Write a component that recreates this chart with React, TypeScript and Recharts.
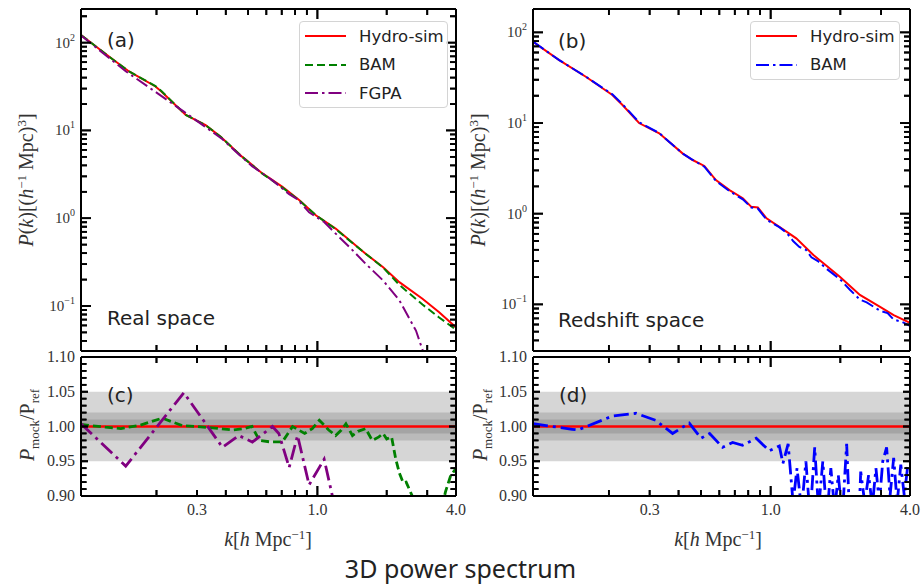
import React from 'react';
import { LineChart, Line, XAxis, YAxis, ReferenceArea, Legend } from 'recharts';

// ---- data (k in h/Mpc) ----
// (a) real space P(k)
const kRealHydro = [0.094, 0.124, 0.152, 0.198, 0.21, 0.268, 0.327, 0.38, 0.472, 0.577, 0.705, 0.833, 0.984, 1.2, 1.62, 1.93, 2.27, 2.86, 3.38, 4.0];
const pRealHydro = [122, 70, 47, 31.7, 27.8, 15.0, 11.5, 8.5, 5.0, 3.24, 2.28, 1.61, 1.08, 0.762, 0.394, 0.277, 0.187, 0.121, 0.085, 0.057];
const pRealBam = [122.5, 69.9, 47, 32.0, 28.1, 15.0, 11.48, 8.47, 4.99, 3.21, 2.23, 1.6, 1.085, 0.752, 0.393, 0.274, 0.174, 0.104, 0.074, 0.0536];
const kRealFgpa = [0.094, 0.147, 0.263, 0.387, 0.456, 0.522, 0.638, 0.754, 0.82, 0.92, 1.07, 1.16, 1.4, 1.62, 1.93, 2.27, 2.68, 2.95];
const pRealFgpa = [121, 47.3, 16.4, 7.95, 5.33, 3.9, 2.7, 1.88, 1.64, 1.17, 0.905, 0.73, 0.45, 0.303, 0.195, 0.116, 0.0525, 0.025];

// (b) redshift space P(k)
const kRedHydro = [0.094, 0.122, 0.159, 0.207, 0.229, 0.27, 0.33, 0.416, 0.46, 0.517, 0.58, 0.664, 0.758, 0.825, 0.88, 0.96, 1.17, 1.29, 1.53, 1.99, 2.43, 2.97, 3.4, 4.0];
const pRedHydro = [78.8, 49.5, 32.4, 20.4, 15.8, 10.0, 7.7, 4.63, 3.91, 3.36, 2.35, 1.82, 1.48, 1.19, 1.17, 0.89, 0.634, 0.535, 0.35, 0.202, 0.127, 0.094, 0.076, 0.0625];
const kRedBam = [0.094, 0.122, 0.159, 0.207, 0.229, 0.27, 0.33, 0.416, 0.46, 0.517, 0.58, 0.664, 0.758, 0.825, 0.88, 0.96, 1.09, 1.17, 1.25, 1.33, 1.42, 1.5, 1.6, 1.75, 1.99, 2.2, 2.43, 2.6, 2.97, 3.2, 3.4, 3.7, 4.0];
const pRedBam = [79, 49.4, 32.5, 20.7, 16.1, 10.2, 7.75, 4.62, 3.93, 3.3, 2.3, 1.77, 1.44, 1.17, 1.14, 0.86, 0.71, 0.62, 0.5, 0.43, 0.4, 0.33, 0.3, 0.245, 0.19, 0.145, 0.113, 0.105, 0.085, 0.08, 0.068, 0.064, 0.058];

// (c) real space ratio P_mock / P_ref
const kRatioHydro = [0.094, 4.0];
const rHydro = [1.0, 1.0];
const kRealBamRatio = [0.094, 0.12, 0.14, 0.17, 0.212, 0.26, 0.3, 0.35, 0.427, 0.48, 0.52, 0.56, 0.618, 0.705, 0.78, 0.88, 0.95, 1.02, 1.12, 1.2, 1.27, 1.33, 1.42, 1.5, 1.62, 1.73, 1.85, 1.93, 2.0, 2.1, 2.19, 2.27, 2.36, 2.43, 2.59, 2.8, 3.1, 3.4, 3.6, 3.78, 4.0];
const rRealBam = [1.003, 0.999, 0.997, 1.002, 1.012, 1.001, 1.0, 0.998, 0.995, 0.997, 1.0, 0.98, 0.978, 0.978, 1.0, 0.99, 0.997, 1.009, 0.995, 0.987, 0.995, 1.004, 0.987, 0.993, 0.997, 0.98, 0.985, 0.99, 0.982, 0.985, 0.953, 0.933, 0.919, 0.92, 0.899, 0.86, 0.84, 0.87, 0.906, 0.928, 0.94];
const kRealFgpaRatio = [0.094, 0.147, 0.263, 0.387, 0.456, 0.522, 0.638, 0.68, 0.754, 0.82, 0.92, 1.07, 1.16, 1.25];
const rRealFgpa = [1.004, 0.943, 1.0485, 0.97, 0.987, 0.9775, 1.0, 0.99, 0.941, 0.987, 0.916, 0.953, 0.901, 0.86];

// (d) redshift space ratio
const kRedBamRatio = [0.094, 0.139, 0.147, 0.207, 0.262, 0.318, 0.377, 0.445, 0.5, 0.545, 0.62, 0.685, 0.756, 0.866, 0.987, 1.09, 1.13, 1.19, 1.25, 1.3, 1.36, 1.42, 1.48, 1.55, 1.61, 1.68, 1.75, 1.82, 1.89, 1.96, 2.04, 2.13, 2.2, 2.3, 2.4, 2.45, 2.55, 2.65, 2.75, 2.85, 2.95, 3.05, 3.17, 3.28, 3.4, 3.52, 3.65, 3.78, 3.9, 4.0];
const rRedBam = [1.004, 0.996, 0.995, 1.015, 1.019, 1.009, 0.99, 1.005, 0.983, 0.99, 0.97, 0.977, 0.973, 0.983, 0.965, 0.972, 0.947, 0.975, 0.89, 0.94, 0.88, 0.95, 0.87, 0.97, 0.88, 0.95, 0.87, 0.94, 0.88, 0.93, 0.87, 0.975, 0.86, 0.85, 0.86, 0.935, 0.89, 0.93, 0.885, 0.94, 0.89, 0.95, 0.97, 0.9, 0.955, 0.89, 0.945, 0.9, 0.94, 0.945];

// ---- ticks ----
const kTicks = [0.2, 0.3, 0.4, 0.5, 0.6, 0.7, 0.8, 0.9, 1, 2, 3, 4];
const kTickLabels: Record<number, string> = { 0.3: '0.3', 1: '1.0', 4: '4.0' };
const pTicks = [0.04, 0.05, 0.06, 0.07, 0.08, 0.09, 0.1, 0.2, 0.3, 0.4, 0.5, 0.6, 0.7, 0.8, 0.9, 1, 2, 3, 4, 5, 6, 7, 8, 9, 10, 20, 30, 40, 50, 60, 70, 80, 90, 100, 200];
const pDecades = [0.1, 1, 10, 100];
const rTicks = [0.9, 0.91, 0.92, 0.93, 0.94, 0.95, 0.96, 0.97, 0.98, 0.99, 1.0, 1.01, 1.02, 1.03, 1.04, 1.05, 1.06, 1.07, 1.08, 1.09, 1.1];
const rMajor = [0.9, 0.95, 1.0, 1.05, 1.1];

const K_DOMAIN: [number, number] = [0.094, 4];
const P_DOMAIN_REAL: [number, number] = [0.0307, 242];
const P_DOMAIN_RED: [number, number] = [0.0306, 181];
const R_DOMAIN: [number, number] = [0.9, 1.1];

const TOP_H = 342; // plot heights in px
const RATIO_H = 139;

const SERIF = '"Liberation Serif", "DejaVu Serif", serif';
const SANS = '"DejaVu Sans", sans-serif';
const AXIS_LINE = { stroke: '#000', strokeWidth: 2 };

const outer = { tickLine: false, axisLine: AXIS_LINE, interval: 0 as const, tickSize: 0, tickMargin: 0 };

type Pt = { k: number; v: number };
const pts = (ks: number[], vs: number[]): Pt[] => ks.map((k, i) => ({ k, v: vs[i] }));

type Series = { name: string; data: Pt[]; color: string; dash?: string; width: number };

// moves a data value inward by a number of pixels along a log / linear axis
type Mover = (v: number, px: number) => number;
const logMover = (domain: [number, number], size: number): Mover => {
  const ppd = size / Math.log10(domain[1] / domain[0]);
  return (v, px) => v * Math.pow(10, px / ppd);
};
const linMover = (domain: [number, number], size: number): Mover => {
  const ppu = size / (domain[1] - domain[0]);
  return (v, px) => v + px / ppu;
};

// all inward tick marks of one panel as a single broken polyline
type TickPt = { k: number; v: number | null };
function frameTickData(
  xDom: [number, number],
  yDom: [number, number],
  yTicks: number[],
  isMajorY: (v: number) => boolean,
  majorY: number,
  minorY: number,
  mx: Mover,
  my: Mover,
): TickPt[] {
  const out: TickPt[] = [];
  const seg = (a: TickPt, b: TickPt) => {
    out.push(a, b, { k: a.k, v: null });
  };
  kTicks.forEach((k) => {
    if (k >= xDom[1]) return;
    const len = k === 1 ? 10 : 6;
    seg({ k, v: yDom[0] }, { k, v: my(yDom[0], len) });
    seg({ k, v: yDom[1] }, { k, v: my(yDom[1], -len) });
  });
  yTicks.forEach((v) => {
    const len = isMajorY(v) ? majorY : minorY;
    seg({ k: xDom[0], v }, { k: mx(xDom[0], len), v });
    seg({ k: xDom[1], v }, { k: mx(xDom[1], -len), v });
  });
  return out;
}

// ---- tick renderers: a filled bar for the mark plus the label ----
const hBar = (x: number, y: number, len: number) => (
  <rect x={len > 0 ? x : x + len} y={y - 0.9} width={Math.abs(len)} height={1.8} fill="#000" />
);
const vBar = (x: number, y: number, len: number) => (
  <rect x={x - 0.9} y={len > 0 ? y : y + len} width={1.8} height={Math.abs(len)} fill="#000" />
);

const kTick = (side: 'top' | 'bottom', labels: boolean) => (props: any) => {
  const { payload } = props;
  const x = Number(props.x);
  const y = Number(props.y);
  const v = payload.value;
  const label = labels ? kTickLabels[v] : undefined;
  const len = v === 1 ? 10 : 6;
  return (
    <g>
      {v !== 4 && vBar(x, y, side === 'bottom' ? -len : len)}
      {label && (
        <text x={x} y={y + 19} textAnchor="middle" fontFamily={SERIF} fontSize={16} fill="#333">
          {label}
        </text>
      )}
    </g>
  );
};

const logTick = (side: 'left' | 'right', labels: boolean) => (props: any) => {
  const { payload } = props;
  const x = Number(props.x);
  const y = Number(props.y);
  const v = payload.value;
  const major = pDecades.includes(v);
  const len = major ? 10 : 6;
  const exp = Math.round(Math.log10(v));
  return (
    <g>
      {hBar(x, y, side === 'left' ? len : -len)}
      {labels && major && (
        <text x={x - 6} y={y + 5} textAnchor="end" fontFamily={SERIF} fontSize={15} fill="#333">
          10
          <tspan dy={-7} fontSize={10}>
            {exp < 0 ? `\u2212${-exp}` : `${exp}`}
          </tspan>
        </text>
      )}
    </g>
  );
};

const ratioTick = (side: 'left' | 'right', labels: boolean) => (props: any) => {
  const { payload } = props;
  const x = Number(props.x);
  const y = Number(props.y);
  const v = payload.value;
  const major = rMajor.includes(v);
  const len = major ? 7 : 5.5;
  return (
    <g>
      {hBar(x, y, side === 'left' ? len : -len)}
      {labels && major && (
        <text x={x - 6} y={y + 5} textAnchor="end" fontFamily={SERIF} fontSize={16} fill="#333">
          {v.toFixed(2)}
        </text>
      )}
    </g>
  );
};

const LegendBox = ({ items, width, height }: { items: Series[]; width: number; height: number }) => (
  <div
    style={{
      width,
      height,
      boxSizing: 'border-box',
      border: '1px solid #d4d4d4',
      borderRadius: 4,
      background: 'rgba(255,255,255,0.85)',
    }}
  >
    {items.map((s) => (
      <div key={s.name} style={{ display: 'flex', alignItems: 'center', height: 28.5 }}>
        <svg width={46} height={10} style={{ marginLeft: 5 }}>
          <line x1={0} x2={41} y1={5} y2={5} stroke={s.color} strokeWidth={2} strokeDasharray={s.dash} />
        </svg>
        <span style={{ marginLeft: 8, fontFamily: SANS, fontSize: 16.5, color: '#222' }}>{s.name}</span>
      </div>
    ))}
  </div>
);

const renderLines = (series: Series[]) =>
  series.map((s) => (
    <Line
      key={s.name}
      xAxisId="b"
      yAxisId="l"
      data={s.data}
      dataKey="v"
      name={s.name}
      type="linear"
      stroke={s.color}
      strokeWidth={s.width}
      strokeDasharray={s.dash}
      dot={false}
      activeDot={false}
      isAnimationActive={false}
    />
  ));

const renderTicks = (data: TickPt[]) => (
  <Line
    xAxisId="b"
    yAxisId="l"
    data={data}
    dataKey="v"
    name="ticks"
    type="linear"
    stroke="#000"
    strokeWidth={1.8}
    connectNulls={false}
    dot={false}
    activeDot={false}
    legendType="none"
    isAnimationActive={false}
  />
);

function SpectrumPanel(props: {
  left: number;
  width: number;
  padRight: number;
  yAxisW: number;
  plotW: number;
  pDomain: [number, number];
  series: Series[];
  legend: { left: number; width: number; height: number };
}) {
  const { left, width, padRight, yAxisW, plotW, pDomain, series, legend } = props;
  const ticks = pTicks.filter((t) => t >= pDomain[0] && t <= pDomain[1]);
  const kx = { dataKey: 'k', type: 'number' as const, scale: 'log' as const, domain: K_DOMAIN, allowDataOverflow: true, ticks: kTicks };
  const py = { type: 'number' as const, scale: 'log' as const, domain: pDomain, allowDataOverflow: true, ticks };
  const tickData = frameTickData(K_DOMAIN, pDomain, ticks, (v) => pDecades.includes(v), 10, 6, logMover(K_DOMAIN, plotW), logMover(pDomain, TOP_H));
  return (
    <div style={{ position: 'absolute', left, top: 0 }}>
      <LineChart width={width} height={356} margin={{ top: 0, right: padRight, bottom: 0, left: 0 }}>
        <XAxis xAxisId="b" orientation="bottom" height={5} tick={kTick('bottom', false)} {...kx} {...outer} />
        <XAxis xAxisId="t" orientation="top" height={9} tick={kTick('top', false)} {...kx} {...outer} />
        <YAxis yAxisId="l" orientation="left" width={yAxisW} tick={logTick('left', true)} {...py} {...outer} />
        <YAxis yAxisId="r" orientation="right" width={4} tick={logTick('right', false)} {...py} {...outer} />
        <Legend
          layout="horizontal"
          verticalAlign="middle"
          align="center"
          wrapperStyle={{ left: legend.left, top: 21, width: legend.width, height: legend.height }}
          content={() => <LegendBox items={series} width={legend.width} height={legend.height} />}
        />
        {renderLines(series)}
        {renderTicks(tickData)}
      </LineChart>
    </div>
  );
}

function RatioPanel(props: { left: number; width: number; padRight: number; yAxisW: number; plotW: number; series: Series[] }) {
  const { left, width, padRight, yAxisW, plotW, series } = props;
  const kx = { dataKey: 'k', type: 'number' as const, scale: 'log' as const, domain: K_DOMAIN, allowDataOverflow: true, ticks: kTicks };
  const ry = { type: 'number' as const, domain: R_DOMAIN, allowDataOverflow: true, ticks: rTicks };
  const tickData = frameTickData(K_DOMAIN, R_DOMAIN, rTicks, (v) => rMajor.includes(v), 7, 5.5, logMover(K_DOMAIN, plotW), linMover(R_DOMAIN, RATIO_H));
  return (
    <div style={{ position: 'absolute', left, top: 349 }}>
      <LineChart width={width} height={177} margin={{ top: 0, right: padRight, bottom: 0, left: 0 }}>
        <ReferenceArea xAxisId="b" yAxisId="l" y1={0.95} y2={1.05} fill="#d6d6d6" fillOpacity={1} stroke="none" />
        <ReferenceArea xAxisId="b" yAxisId="l" y1={0.98} y2={1.02} fill="#bababa" fillOpacity={1} stroke="none" />
        <ReferenceArea xAxisId="b" yAxisId="l" y1={0.99} y2={1.01} fill="#a4a4a4" fillOpacity={1} stroke="none" />
        <XAxis xAxisId="b" orientation="bottom" height={30} tick={kTick('bottom', true)} {...kx} {...outer} />
        <XAxis xAxisId="t" orientation="top" height={8} tick={kTick('top', false)} {...kx} {...outer} />
        <YAxis yAxisId="l" orientation="left" width={yAxisW} tick={ratioTick('left', true)} {...ry} {...outer} />
        <YAxis yAxisId="r" orientation="right" width={4} tick={ratioTick('right', false)} {...ry} {...outer} />
        {renderLines(series)}
        {renderTicks(tickData)}
      </LineChart>
    </div>
  );
}

const RED = '#ff0000';
const GREEN = '#008000';
const PURPLE = '#800080';
const BLUE = '#0000ff';

const realSeries: Series[] = [
  { name: 'Hydro-sim', data: pts(kRealHydro, pRealHydro), color: RED, width: 2 },
  { name: 'BAM', data: pts(kRealHydro, pRealBam), color: GREEN, dash: '8 4', width: 2 },
  { name: 'FGPA', data: pts(kRealFgpa, pRealFgpa), color: PURPLE, dash: '13 4 2.5 4', width: 2 },
];
const redSeries: Series[] = [
  { name: 'Hydro-sim', data: pts(kRedHydro, pRedHydro), color: RED, width: 2 },
  { name: 'BAM', data: pts(kRedBam, pRedBam), color: BLUE, dash: '13 4 2.5 4', width: 2 },
];
const realRatio: Series[] = [
  { name: 'Hydro-sim', data: pts(kRatioHydro, rHydro), color: RED, width: 2.5 },
  { name: 'BAM', data: pts(kRealBamRatio, rRealBam), color: GREEN, dash: '8 4', width: 2.8 },
  { name: 'FGPA', data: pts(kRealFgpaRatio, rRealFgpa), color: PURPLE, dash: '15 5 3 5', width: 2.8 },
];
const redRatio: Series[] = [
  { name: 'Hydro-sim', data: pts(kRatioHydro, rHydro), color: RED, width: 2.5 },
  { name: 'BAM', data: pts(kRedBamRatio, rRedBam), color: BLUE, dash: '15 5 3 5', width: 2.8 },
];

const Txt = ({ left, cy, size, font, children }: { left: number; cy: number; size: number; font: string; children: React.ReactNode }) => (
  <div style={{ position: 'absolute', left, top: cy - size / 2, fontFamily: font, fontSize: size, lineHeight: `${size}px`, color: '#222', whiteSpace: 'nowrap' }}>
    {children}
  </div>
);

const Centered = ({ cx, cy, rotate, children, size }: { cx: number; cy: number; rotate?: boolean; size: number; children: React.ReactNode }) => (
  <div
    style={{
      position: 'absolute',
      left: cx,
      top: cy,
      transform: `translate(-50%, -50%)${rotate ? ' rotate(-90deg)' : ''}`,
      fontFamily: SERIF,
      fontSize: size,
      color: '#333',
      whiteSpace: 'nowrap',
      lineHeight: 1,
    }}
  >
    {children}
  </div>
);

const PowerTitle = () => (
  <span>
    <i>P</i>(<i>k</i>)[(<i>h</i>
    <sup style={{ fontSize: '0.65em' }}>{'\u22121'}</sup> Mpc)<sup style={{ fontSize: '0.65em' }}>3</sup>]
  </span>
);
const RatioTitle = () => (
  <span>
    <i>P</i>
    <sub style={{ fontSize: '0.65em' }}>mock</sub>/P<sub style={{ fontSize: '0.65em' }}>ref</sub>
  </span>
);
const KTitle = () => (
  <span>
    <i>k</i>[<i>h</i> Mpc<sup style={{ fontSize: '0.65em' }}>{'\u22121'}</sup>]
  </span>
);

export default function App() {
  return (
    <div style={{ position: 'absolute', left: 0, top: 0, width: 921, height: 586, background: '#fff', overflow: 'hidden' }}>
      <SpectrumPanel left={0} width={480} padRight={20} yAxisW={81} plotW={375} pDomain={P_DOMAIN_REAL} series={realSeries} legend={{ left: 299, width: 149, height: 87 }} />
      <SpectrumPanel left={460} width={461} padRight={7} yAxisW={73} plotW={377} pDomain={P_DOMAIN_RED} series={redSeries} legend={{ left: 290, width: 150, height: 59 }} />
      <RatioPanel left={0} width={480} padRight={20} yAxisW={81} plotW={375} series={realRatio} />
      <RatioPanel left={460} width={461} padRight={7} yAxisW={73} plotW={377} series={redRatio} />

      <Txt left={107} cy={40} size={20} font={SANS}>(a)</Txt>
      <Txt left={558} cy={41} size={20} font={SANS}>(b)</Txt>
      <Txt left={107} cy={395} size={20} font={SANS}>(c)</Txt>
      <Txt left={559} cy={395} size={20} font={SANS}>(d)</Txt>
      <Txt left={107} cy={318} size={20} font={SANS}>Real space</Txt>
      <Txt left={558} cy={320} size={20} font={SANS}>Redshift space</Txt>

      <Centered cx={25} cy={180} size={20} rotate>
        <PowerTitle />
      </Centered>
      <Centered cx={477} cy={180} size={20} rotate>
        <PowerTitle />
      </Centered>
      <Centered cx={29} cy={425} size={20} rotate>
        <RatioTitle />
      </Centered>
      <Centered cx={482} cy={425} size={20} rotate>
        <RatioTitle />
      </Centered>
      <Centered cx={268} cy={538} size={20}>
        <KTitle />
      </Centered>
      <Centered cx={718} cy={538} size={20}>
        <KTitle />
      </Centered>

      <div style={{ position: 'absolute', left: 0, width: 921, top: 556, textAlign: 'center', fontFamily: '"Noto Sans", sans-serif', fontSize: 25, lineHeight: '25px', color: '#222' }}>
        3D power spectrum
      </div>
    </div>
  );
}
